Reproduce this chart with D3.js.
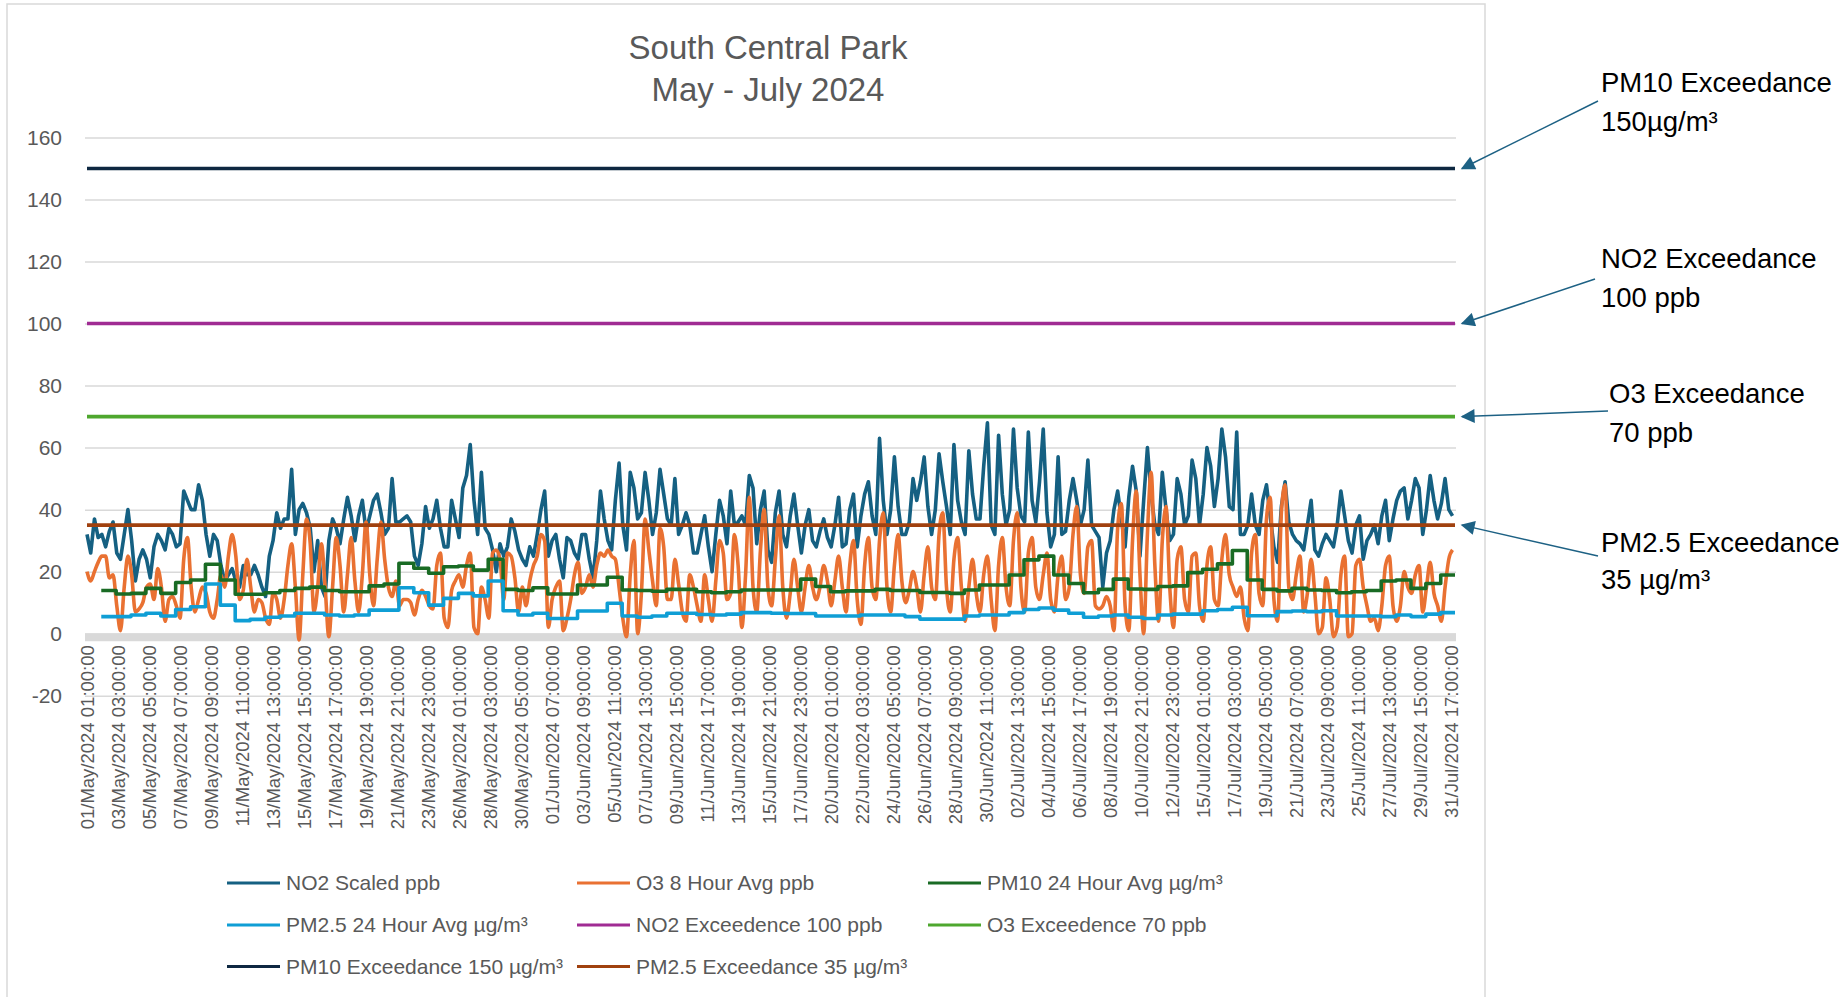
<!DOCTYPE html>
<html lang="en">
<head>
<meta charset="UTF-8">
<title>South Central Park May - July 2024</title>
<style>
  body { margin: 0; background: #fff; }
  svg { display: block; font-family: "Liberation Sans", Arial, sans-serif; }
  .series { fill: none; stroke-linejoin: round; }
</style>
</head>
<body>
<script src="https://cdn.jsdelivr.net/npm/d3@7"></script>
<script>
// readings every 6 hours from 01/May/2024 01:00 (one row per day)
const no2 = [
  32,26,37,31, 32,28,33,36, 26,24,32,40, 30,17,24,27, 24,18,28,32, 30,27,34,32, 28,29,46,43,
  40,40,48,43, 32,25,32,30, 22,17,19,21, 17,15,22,19, 19,22,19,15, 12,25,30,39, 34,37,37,53,
  32,40,42,39, 34,20,30,15, 12,30,37,34, 29,37,44,38, 30,38,43,33, 38,43,45,39, 32,34,50,36,
  36,37,38,36, 25,22,29,41, 34,37,43,34, 28,28,43,37, 31,47,51,61, 43,32,52,34, 32,27,20,29,
  25,28,37,33, 27,24,22,28, 25,32,40,46, 25,30,32,24, 18,31,30,26, 24,32,32,24, 18,30,46,37,
  30,27,43,55, 35,27,52,47, 37,39,52,43, 32,39,53,45, 37,35,50,32, 35,39,35,26, 26,32,38,28,
  20,32,43,38, 29,46,35,36, 38,35,51,47, 29,40,46,27, 23,39,46,32, 28,38,45,35, 26,35,40,30,
  28,33,37,31, 28,35,44,28, 29,40,45,28, 38,45,49,38, 32,63,43,32, 40,57,41,32, 32,36,50,43,
  49,57,41,32, 40,58,49,41, 32,61,43,36, 32,59,45,37, 37,54,68,35, 32,64,45,35, 40,66,47,38,
  36,65,43,36, 49,66,39,28, 32,57,32,33, 43,50,43,35, 40,56,35,33, 31,15,26,30, 40,46,37,28,
  44,54,46,25, 43,60,45,35, 32,52,40,30, 32,50,45,35, 38,56,50,35, 45,60,54,41, 50,66,57,41,
  40,65,32,32, 35,45,35,32, 43,48,38,28, 23,41,49,36, 32,30,29,27, 35,43,27,25, 29,32,30,28,
  35,46,38,30, 26,35,38,24, 30,32,35,29, 38,43,30,37, 43,46,47,37, 43,50,47,32, 40,51,43,37,
  42,50,40,38
];
const o3 = [
  20,17,20,23, 25,25,18,19, 9,1,15,25, 19,7,8,10, 15,16,11,21, 15,4,11,12, 9,5,24,31,
  15,7,11,15, 13,7,5,11, 19,15,25,32, 25,11,14,24, 15,7,11,10, 5,3,13,11, 5,11,22,29,
  15,-2,19,37, 29,7,15,29, 15,-1,15,31, 22,7,19,31, 17,7,19,36, 19,9,24,36, 24,15,12,17,
  9,11,11,10, 6,11,14,12, 9,8,22,26, 5,2,14,17, 19,15,22,26, 2,0,15,11, 5,26,27,24,
  11,26,25,18, 7,15,9,17, 22,25,32,30, 2,11,15,17, 1,5,11,19, 23,13,15,19, 15,22,26,25,
  27,25,24,15, 5,-1,19,30, 0,13,37,27, 17,9,34,28, 11,11,24,16, 7,4,19,15, 9,4,19,11,
  4,17,30,26, 11,13,32,22, 2,19,44,15, 7,27,40,15, 9,24,38,15, 5,13,24,15, 7,15,22,15,
  11,15,22,17, 9,17,25,15, 7,22,30,11, 3,22,31,15, 11,30,39,15, 7,22,32,17, 10,14,20,15,
  7,19,28,15, 11,32,39,15, 7,24,31,15, 4,15,24,13, 7,19,25,11, 1,22,31,15, 9,30,39,15,
  7,26,31,15, 11,19,26,11, 7,19,25,11, 15,32,41,19, 13,28,30,9, 8,9,12,9, 1,34,42,9,
  1,30,46,19, 0,32,52,22, 4,30,41,15, 2,24,28,11, 7,25,26,9, 4,22,28,11, 9,24,32,19,
  15,12,15,5, 1,26,32,13, 9,37,44,11, 4,39,48,15, 11,19,25,7, 13,24,13,0, 2,18,11,-1,
  2,19,25,-1, 0,22,24,15, 9,4,5,1, 9,22,25,9, 4,9,20,15, 13,19,22,7, 15,23,13,9,
  4,15,24,27
];
// 24 hour averages, one value per day from 02/May
const pm10 = [
  13.9,12.8,13.0,14.6,13.0,16.5,17.3,22.4,17.3,12.7,12.7,13.2,13.9,14.6,15.0,13.9,13.5,13.5,15.4,16.0,
  22.7,21.1,19.5,21.6,21.8,20.5,24.0,14.3,13.9,14.8,12.8,12.8,15.7,15.7,18.2,14.1,13.9,13.7,14.3,14.3,
  13.5,13.2,13.5,14.1,14.1,14.1,14.1,17.6,15.2,13.5,13.8,13.8,14.3,13.9,13.9,13.3,13.3,13.0,14.1,15.7,
  15.7,18.9,23.8,25.0,18.9,16.2,13.2,14.3,17.6,14.4,14.3,15.2,15.4,19.7,20.8,22.5,26.8,17.3,14.3,13.8,
  14.6,14.1,13.9,13.2,13.5,13.9,17.0,17.3,14.6,16.2,18.9
];
const pm25 = [
  5.5,5.5,6.0,6.6,5.7,7.8,8.7,16.0,9.2,4.2,4.6,5.3,5.7,6.6,6.6,6.0,5.7,6.0,7.6,7.6,
  14.8,13.2,9.2,11.4,13.0,12.2,17.0,7.4,6.0,6.6,4.9,4.9,7.3,7.3,9.8,5.7,5.3,5.7,6.6,6.6,
  6.2,6.0,6.3,6.8,6.8,6.6,6.5,6.5,5.7,5.7,5.7,6.0,6.0,6.0,5.5,4.7,4.7,4.7,5.7,6.0,
  6.0,6.8,7.8,8.3,7.6,6.6,5.3,5.7,6.0,5.3,4.9,6.0,6.3,6.3,7.4,7.8,8.5,5.8,5.8,7.1,
  7.3,7.1,7.4,5.7,5.7,5.7,5.5,6.0,5.5,6.3,6.8
];
const limitValues = [100, 70, 150, 35];   // NO2, O3, PM10, PM2.5

const seriesNames = [
  "NO2 Scaled ppb", "O3 8 Hour Avg ppb", "PM10 24 Hour Avg µg/m³",
  "PM2.5 24 Hour Avg µg/m³", "NO2 Exceedence 100 ppb", "O3 Exceedence 70 ppb",
  "PM10 Exceedance 150 µg/m³", "PM2.5 Exceedance 35 µg/m³"
];
const seriesColors = ["#156082", "#e97132", "#196b24", "#0f9ed5", "#a02b93", "#4ea72e", "#0e2841", "#a0410f"];

const tickLabels = [
  "01/May/2024 01:00:00","03/May/2024 03:00:00","05/May/2024 05:00:00","07/May/2024 07:00:00",
  "09/May/2024 09:00:00","11/May/2024 11:00:00","13/May/2024 13:00:00","15/May/2024 15:00:00",
  "17/May/2024 17:00:00","19/May/2024 19:00:00","21/May/2024 21:00:00","23/May/2024 23:00:00",
  "26/May/2024 01:00:00","28/May/2024 03:00:00","30/May/2024 05:00:00","01/Jun/2024 07:00:00",
  "03/Jun/2024 09:00:00","05/Jun/2024 11:00:00","07/Jun/2024 13:00:00","09/Jun/2024 15:00:00",
  "11/Jun/2024 17:00:00","13/Jun/2024 19:00:00","15/Jun/2024 21:00:00","17/Jun/2024 23:00:00",
  "20/Jun/2024 01:00:00","22/Jun/2024 03:00:00","24/Jun/2024 05:00:00","26/Jun/2024 07:00:00",
  "28/Jun/2024 09:00:00","30/Jun/2024 11:00:00","02/Jul/2024 13:00:00","04/Jul/2024 15:00:00",
  "06/Jul/2024 17:00:00","08/Jul/2024 19:00:00","10/Jul/2024 21:00:00","12/Jul/2024 23:00:00",
  "15/Jul/2024 01:00:00","17/Jul/2024 03:00:00","19/Jul/2024 05:00:00","21/Jul/2024 07:00:00",
  "23/Jul/2024 09:00:00","25/Jul/2024 11:00:00","27/Jul/2024 13:00:00","29/Jul/2024 15:00:00",
  "31/Jul/2024 17:00:00"
];
const yTicks = [-20, 0, 20, 40, 60, 80, 100, 120, 140, 160];
const notes = [
  ["PM10 Exceedance", "150µg/m³"],
  ["NO2 Exceedance", "100 ppb"],
  ["O3 Exceedance", "70 ppb"],
  ["PM2.5 Exceedance", "35 µg/m³"]
];

const width = 1846, height = 997;
const left = 85, right = 1456;
const lastHour = 2206;
const stepHours = 6, labelEvery = 50;

const x = d3.scaleLinear().domain([0, lastHour]).range([87, 1455]);
const y = d3.scaleLinear().domain([-20, 160]).range([695.7, 137.5]);

const svg = d3.select('body').append('svg')
  .attr('width', width).attr('height', height);

// chart area frame
svg.append('rect')
  .attr('x', 7).attr('y', 4).attr('width', 1478).attr('height', 1010)
  .attr('fill', '#fff').attr('stroke', '#d9d9d9').attr('stroke-width', 1.5);

// title
svg.append('text').attr('x', 768).attr('y', 47).attr('dy', '0.35em')
  .attr('text-anchor', 'middle').attr('font-size', 33).attr('fill', '#595959')
  .text('South Central Park');
svg.append('text').attr('x', 768).attr('y', 89.5).attr('dy', '0.35em')
  .attr('text-anchor', 'middle').attr('font-size', 33).attr('fill', '#595959')
  .text('May - July 2024');

// y axis + gridlines
svg.append('g')
  .attr('transform', `translate(${left},0)`)
  .call(d3.axisLeft(y).tickValues(yTicks).tickFormat(d => String(d))
    .tickSize(-(right - left)).tickPadding(23))
  .attr('font-size', 21).attr('font-family', null)
  .call(g => g.select('.domain').remove())
  .call(g => g.selectAll('.tick line').attr('stroke', '#d9d9d9').attr('stroke-width', 1.5))
  .call(g => g.selectAll('.tick text').attr('fill', '#595959'));

// thick category axis line at zero
svg.append('line')
  .attr('x1', left).attr('x2', right)
  .attr('y1', y(0) + 3.5).attr('y2', y(0) + 3.5)
  .attr('stroke', '#d9d9d9').attr('stroke-width', 8);

// x axis labels, rotated
const gx = svg.append('g')
  .attr('transform', `translate(0,${y(0)})`)
  .call(d3.axisBottom(x)
    .tickValues(tickLabels.map((d, i) => i * labelEvery))
    .tickFormat((d, i) => tickLabels[i])
    .tickSize(0))
  .attr('font-size', 18.5).attr('font-family', null);
gx.select('.domain').remove();
gx.selectAll('.tick text')
  .attr('fill', '#595959')
  .attr('transform', 'rotate(-90)')
  .attr('x', -11.5).attr('y', 0).attr('dy', '0.35em')
  .attr('text-anchor', 'end');

// series
const line = d3.line().x(d => x(d[0])).y(d => y(d[1]));
const daily = vals => {
  const pts = vals.map((v, i) => [24 * (i + 1) - 1, v]);
  pts.push([lastHour, vals[vals.length - 1]]);
  return pts;
};
const flat = v => [[0, v], [lastHour, v]];

const seriesData = [
  { pts: no2.map((v, i) => [i * stepHours, v]), curve: d3.curveLinear },
  { pts: o3.map((v, i) => [i * stepHours, v]), curve: d3.curveMonotoneX },
  { pts: daily(pm10), curve: d3.curveStepAfter },
  { pts: daily(pm25), curve: d3.curveStepAfter },
  { pts: flat(limitValues[0]), curve: d3.curveLinear },
  { pts: flat(limitValues[1]), curve: d3.curveLinear },
  { pts: flat(limitValues[2]), curve: d3.curveLinear },
  { pts: flat(limitValues[3]), curve: d3.curveLinear }
];

svg.selectAll('path.series')
  .data(seriesData)
  .enter()
  .append('path')
  .attr('class', 'series')
  .attr('stroke', (d, i) => seriesColors[i])
  .attr('stroke-width', 3.6)
  .attr('d', d => line.curve(d.curve)(d.pts));

// legend
const legCols = [227, 577, 928], legRows = [883, 925, 966.5];
const leg = svg.selectAll('g.legend')
  .data(seriesNames)
  .enter()
  .append('g')
  .attr('class', 'legend')
  .attr('transform', (d, i) => `translate(${legCols[i % 3]},${legRows[Math.floor(i / 3)]})`);
leg.append('line')
  .attr('x1', 0).attr('x2', 53)
  .attr('stroke', (d, i) => seriesColors[i]).attr('stroke-width', 3.2);
leg.append('text')
  .attr('x', 59).attr('dy', '0.35em')
  .attr('font-size', 21).attr('fill', '#595959')
  .text(d => d);

// annotations with arrows pointing at the limit lines
svg.append('defs').append('marker')
  .attr('id', 'head')
  .attr('markerUnits', 'userSpaceOnUse')
  .attr('viewBox', '0 0 10 10')
  .attr('refX', 9).attr('refY', 5)
  .attr('markerWidth', 16).attr('markerHeight', 14)
  .attr('orient', 'auto')
  .append('path').attr('d', 'M0,0L10,5L0,10Z').attr('fill', '#1d6184');

const noteText = [[1601, 82, 121], [1601, 258, 297], [1609, 393, 432], [1601, 542, 579]];
const arrowStart = [[1598, 101], [1595, 279], [1608, 411], [1598, 556]];
const noteLimit = [limitValues[2], limitValues[0], limitValues[1], limitValues[3]];

notes.forEach((n, i) => {
  const [tx, y1, y2] = noteText[i];
  svg.append('text').attr('x', tx).attr('y', y1).attr('dy', '0.35em')
    .attr('font-size', 27.5).attr('fill', '#000').text(n[0]);
  svg.append('text').attr('x', tx).attr('y', y2).attr('dy', '0.35em')
    .attr('font-size', 27.5).attr('fill', '#000').text(n[1]);
  svg.append('line')
    .attr('x1', arrowStart[i][0]).attr('y1', arrowStart[i][1])
    .attr('x2', right + 6).attr('y2', y(noteLimit[i]))
    .attr('stroke', '#1d6184').attr('stroke-width', 1.5)
    .attr('marker-end', 'url(#head)');
});
</script>
</body>
</html>
